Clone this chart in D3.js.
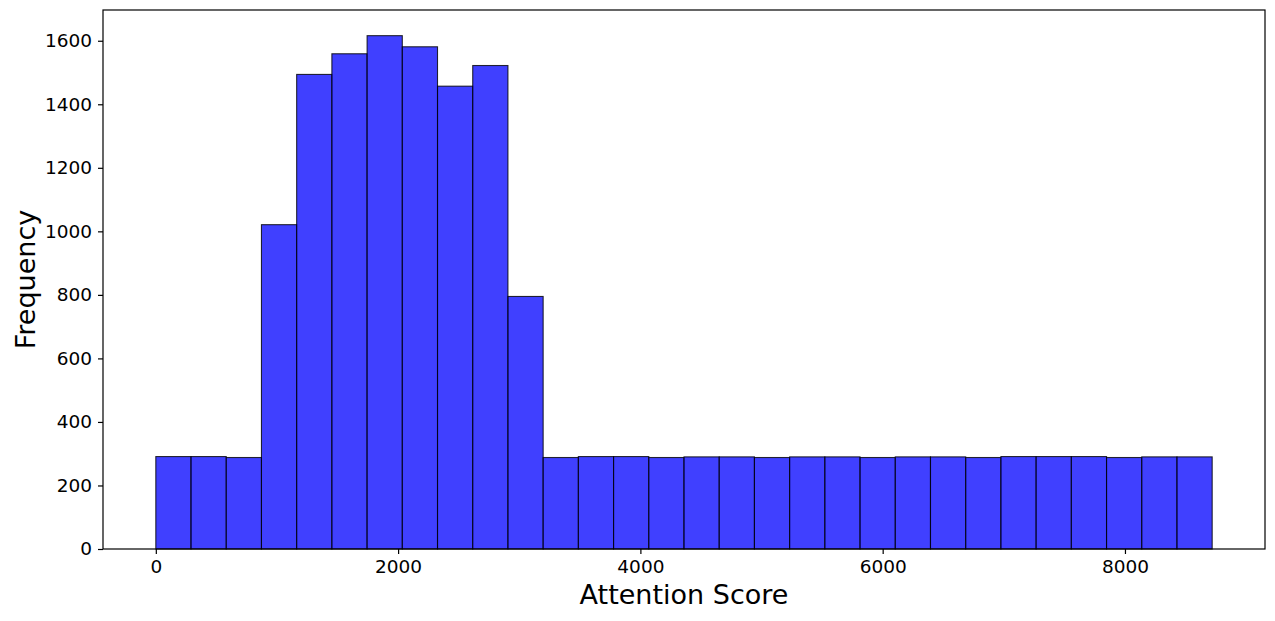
<!DOCTYPE html>
<html>
<head>
<meta charset="utf-8">
<script src="https://cdn.jsdelivr.net/npm/d3@7"></script>
<style>
  html, body { margin: 0; padding: 0; background: #fff; }
  svg { display: block; }
  text { font-family: "DejaVu Sans", sans-serif; fill: #000; }
</style>
</head>
<body>
<svg id="chart" width="1275" height="621"></svg>
<script>
// ---- data ----
const binStart = 0;
const binEnd = 8720;
const counts = [291, 291, 288, 1021, 1494, 1559, 1616, 1581, 1457, 1522, 795,
                288, 291, 291, 288, 290, 290, 288, 290, 290, 288, 290, 290, 288,
                291, 291, 291, 288, 290, 290];
const xTicks = [0, 2000, 4000, 6000, 8000];
const yTicks = [0, 200, 400, 600, 800, 1000, 1200, 1400, 1600];
const xLabel = "Attention Score";
const yLabel = "Frequency";

// ---- layout ----
(function () {
const svg = d3.select("#chart");
const mLeft = 103, mRight = 1265, mTop = 10, mBottom = 549;
const nBins = counts.length;
const binW = (binEnd - binStart) / nBins;
const bins = counts.map((c, i) => ({ x0: binStart + i * binW, x1: binStart + (i + 1) * binW, n: c }));

const span = binEnd - binStart;
const x = d3.scaleLinear()
  .domain([binStart - 0.05 * span, binEnd + 0.05 * span])
  .range([mLeft, mRight]);
const yMax = d3.max(counts) * 1.05;
const y = d3.scaleLinear().domain([0, yMax]).range([mBottom, mTop]);

// bars
svg.append("g").selectAll("rect").data(bins).join("rect")
  .attr("x", d => x(d.x0))
  .attr("y", d => y(d.n))
  .attr("width", d => x(d.x1) - x(d.x0))
  .attr("height", d => y(0) - y(d.n))
  .attr("fill", "rgba(0,0,255,0.75)")
  .attr("stroke", "rgba(0,0,0,0.8)")
  .attr("stroke-width", 1.1);

// frame
svg.append("rect")
  .attr("x", mLeft).attr("y", mTop)
  .attr("width", mRight - mLeft).attr("height", mBottom - mTop)
  .attr("fill", "none").attr("stroke", "#000").attr("stroke-width", 1.2);

// axes
const xAxis = svg.append("g")
  .attr("transform", `translate(0,${mBottom})`)
  .call(d3.axisBottom(x).tickValues(xTicks).tickFormat(d3.format("d")).tickSizeOuter(0).tickSize(5).tickPadding(6));
const yAxis = svg.append("g")
  .attr("transform", `translate(${mLeft},0)`)
  .call(d3.axisLeft(y).tickValues(yTicks).tickFormat(d3.format("d")).tickSizeOuter(0).tickSize(5).tickPadding(6));
[xAxis, yAxis].forEach(a => {
  a.select(".domain").remove();
  a.selectAll(".tick line").attr("stroke", "#000").attr("stroke-width", 1.2);
  a.selectAll(".tick text").attr("font-size", 18.5).attr("font-family", "DejaVu Sans").attr("fill", "#000");
});

// labels
svg.append("text")
  .attr("x", (mLeft + mRight) / 2).attr("y", 604)
  .attr("text-anchor", "middle").attr("font-size", 27)
  .text(xLabel);
svg.append("text")
  .attr("transform", `translate(35,${(mTop + mBottom) / 2}) rotate(-90)`)
  .attr("text-anchor", "middle").attr("font-size", 27)
  .text(yLabel);
})();
</script>
</body>
</html>
